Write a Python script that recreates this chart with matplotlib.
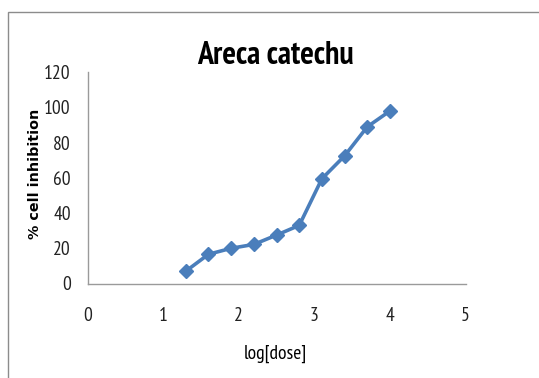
import matplotlib
matplotlib.use("Agg")
import matplotlib.pyplot as plt
from matplotlib.patches import Rectangle

log_dose = [1.3, 1.6, 1.9, 2.2, 2.5, 2.8, 3.1, 3.4, 3.7, 4.0]
inhibition = [7, 16.6, 20, 22.2, 27.5, 33, 59.5, 72.5, 89, 98]
x_ticks = [0, 1, 2, 3, 4, 5]
y_ticks = [0, 20, 40, 60, 80, 100, 120]

narrow = ["PT Sans Narrow", "DejaVu Sans"]
W, H = 539, 378

fig = plt.figure(figsize=(W / 100, H / 100), dpi=100)
fig.patch.set_facecolor("white")

# outer chart frame
fig.add_artist(Rectangle((7.5 / W, -0.1), 1.2, 1 - 12 / H + 0.1,
                         transform=fig.transFigure, fill=False,
                         edgecolor="#8c8c8c", linewidth=1.0))

ax = fig.add_axes([87.5 / W, 1 - 283.5 / H, (465.6 - 87.5) / W, (283.5 - 72.2) / H])
ax.plot(log_dose, inhibition, color="#4a7ebb", linewidth=2.6,
        marker="D", markersize=7, markerfacecolor="#4a7ebb",
        markeredgecolor="#4a7ebb", solid_joinstyle="round")

ax.set_xlim(0, 5)
ax.set_ylim(0, 120)
ax.set_xticks(x_ticks)
ax.set_yticks(y_ticks)
ax.tick_params(length=0, labelsize=14)
ax.tick_params(axis="x", pad=17)
ax.tick_params(axis="y", pad=12)
for lab in ax.get_xticklabels() + ax.get_yticklabels():
    lab.set_fontfamily(narrow)
    lab.set_color("#222222")

for side in ("top", "right"):
    ax.spines[side].set_visible(False)
for side in ("left", "bottom"):
    ax.spines[side].set_color("#9a9a9a")
    ax.spines[side].set_linewidth(1.0)

fig.text(275.5 / W, 1 - 64 / H, "Areca catechu", ha="center", va="baseline",
         fontsize=23, fontfamily=narrow, fontweight="bold", color="black")
fig.text(275.5 / W, 1 - 359 / H, "log[dose]", ha="center", va="baseline",
         fontsize=14, fontfamily=narrow, color="black")
fig.text(35 / W, 1 - 173.5 / H, "% cell inhibition", ha="center", va="center",
         rotation=90, fontsize=10.3, fontweight="bold", fontfamily="DejaVu Sans",
         color="black")

fig.savefig("out.png", dpi=100, facecolor="white")
